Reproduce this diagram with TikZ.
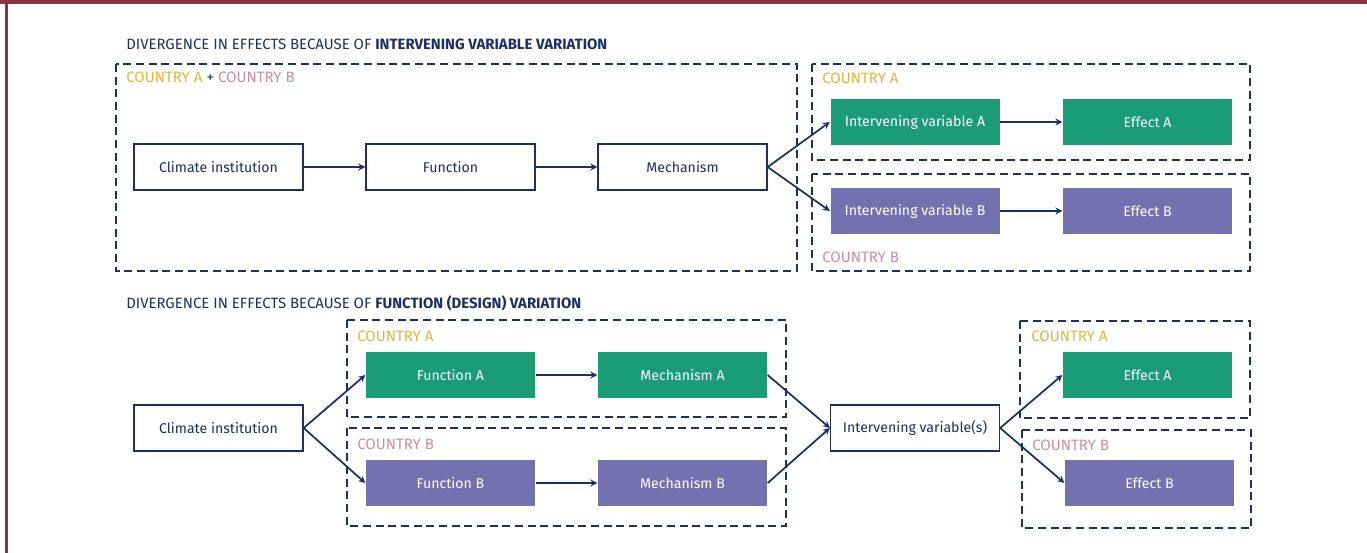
\documentclass[tikz,border=0pt]{standalone}
\usepackage{fontspec}
\setmainfont{Fira Sans}
\usetikzlibrary{arrows,positioning}
\definecolor{navy}{HTML}{1B2F6B}
\definecolor{ctrya}{HTML}{E5B53A}
\definecolor{ctryb}{HTML}{D08C9C}
\definecolor{boxgreen}{HTML}{1A9C74}
\definecolor{boxpurple}{HTML}{7571B1}
\definecolor{framered}{HTML}{8A3447}
\tikzstyle{arrow} = [line width=1.3pt,->,>=stealth,draw=navy]
\tikzstyle{plain} = [draw=navy, line width=1pt, fill=white, text=navy, minimum width=126.75pt, minimum height=34.5pt, inner sep=0pt, font=\fontsize{10.6}{12}\selectfont]
\tikzstyle{boxa} = [plain, draw=none, fill=boxgreen, text=white]
\tikzstyle{boxb} = [plain, draw=none, fill=boxpurple, text=white]
\tikzstyle{group} = [draw=navy, dash pattern=on 6pt off 3.5pt, line width=1.4pt]
\tikzstyle{title} = [anchor=base west, inner sep=0pt, text=navy, font=\fontsize{11.2}{13}\selectfont]
\tikzstyle{country} = [anchor=base west, inner sep=0pt, font=\fontsize{11.3}{13}\selectfont]

\begin{document}
\begin{tikzpicture}[x=0.75pt, y=-0.75pt]
    \useasboundingbox (0,0) rectangle (1367,553);
    \fill[framered] (0,0) rectangle (1367,4);
    \fill[framered] (5,0) rectangle (7.5,553);

    % intervening variable variation
    \node[title] (t1) at (126,49) {DIVERGENCE IN EFFECTS BECAUSE OF \textbf{INTERVENING VARIABLE VARIATION}};
    \draw[group] (116,64) rectangle (797,271);
    \draw[group] (812,64) rectangle (1250,160);
    \draw[group] (812,174) rectangle (1250,271);
    \node[country] (c1) at (126,82) {\textcolor{ctrya}{COUNTRY A} \textcolor{navy}{+} \textcolor{ctryb}{COUNTRY B}};
    \node[country, text=ctrya] (c2) at (822,83) {COUNTRY A};
    \node[country, text=ctryb] (c3) at (822,262) {COUNTRY B};

    \node[plain] (inst) at (218.5,167) {Climate institution};
    \node[plain] (func) at (450.5,167) {Function};
    \node[plain] (mech) at (682.5,167) {Mechanism};
    \node[boxa] (iva) at (915,122) {Intervening variable A};
    \node[boxa] (effa) at (1147.5,122) {Effect A};
    \node[boxb] (ivb) at (915,211) {Intervening variable B};
    \node[boxb] (effb) at (1147.5,211) {Effect B};

    \draw[arrow] (inst) -- (func);
    \draw[arrow] (func) -- (mech);
    \draw[arrow] (mech.east) -- (iva.west);
    \draw[arrow] (mech.east) -- (ivb.west);
    \draw[arrow] (iva) -- (effa);
    \draw[arrow] (ivb) -- (effb);

    % function (design) variation
    \node[title] (t2) at (126,308) {DIVERGENCE IN EFFECTS BECAUSE OF \textbf{FUNCTION (DESIGN) VARIATION}};
    \draw[group] (347,320) rectangle (786,417);
    \draw[group] (347,428) rectangle (786,526);
    \draw[group] (1020,321) rectangle (1250,418);
    \draw[group] (1022,430) rectangle (1251,528);
    \node[country, text=ctrya] (c4) at (357,341) {COUNTRY A};
    \node[country, text=ctryb] (c5) at (357,449) {COUNTRY B};
    \node[country, text=ctrya] (c6) at (1031,341) {COUNTRY A};
    \node[country, text=ctryb] (c7) at (1032,450) {COUNTRY B};

    \node[plain] (inst2) at (218.5,428) {Climate institution};
    \node[boxa] (funca) at (450.5,375) {Function A};
    \node[boxa] (mecha) at (682.5,375) {Mechanism A};
    \node[boxb] (funcb) at (450.5,483) {Function B};
    \node[boxb] (mechb) at (682.5,483) {Mechanism B};
    \node[plain] (ivs) at (915,428) {Intervening variable(s)};
    \node[boxa] (effa2) at (1147.5,375) {Effect A};
    \node[boxb] (effb2) at (1149.5,483) {Effect B};

    \draw[arrow] (inst2.east) -- (funca.west);
    \draw[arrow] (inst2.east) -- (funcb.west);
    \draw[arrow] (funca) -- (mecha);
    \draw[arrow] (funcb) -- (mechb);
    \draw[arrow] (mecha.east) -- (ivs.west);
    \draw[arrow] (mechb.east) -- (ivs.west);
    \draw[arrow] (ivs.east) -- (effa2.west);
    \draw[arrow] (ivs.east) -- (effb2.west);
\end{tikzpicture}
\end{document}
